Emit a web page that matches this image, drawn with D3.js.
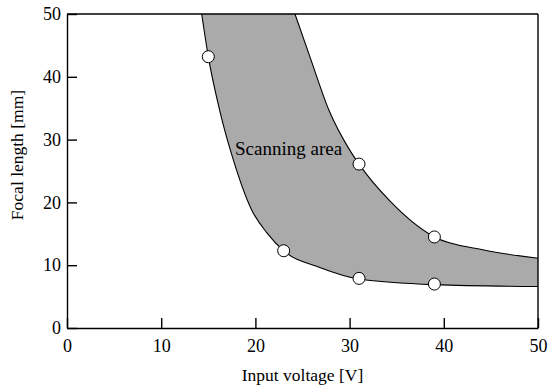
<!DOCTYPE html>
<html>
<head>
<meta charset="utf-8">
<script src="https://cdn.jsdelivr.net/npm/d3@7"></script>
<style>
  body { margin: 0; background: #fff; }
  svg text { font-family: "Liberation Serif", "Times New Roman", serif; fill: #000; }
</style>
</head>
<body>
<div id="chart"></div>
<script>
// ---- data ----
var xTicks = [0, 10, 20, 30, 40, 50];
var yTicks = [0, 10, 20, 30, 40, 50];

// upper boundary of the scanning area
var upperX = [24.2, 25.9, 27.8, 29.9, 31, 34.3, 39, 44, 50];
var upperY = [50, 42.7, 34.7, 28.6, 26.1, 20.2, 14.5, 12.5, 11.1];

// lower boundary of the scanning area
var lowerX = [14.3, 15, 16.2, 17.65, 19.6, 21.2, 23, 26.9, 31, 39, 50];
var lowerY = [50, 43.2, 34.7, 26.8, 18.8, 15.2, 12.3, 9.6, 7.8, 6.9, 6.6];

// measured points (open circles)
var pointX = [15, 23, 31, 31, 39, 39];
var pointY = [43.2, 12.3, 26.1, 7.9, 14.5, 7.0];

var width = 553, height = 387;
var serif = '"Liberation Serif", "Times New Roman", serif';
var svg = d3.select("#chart").append("svg")
    .attr("width", width)
    .attr("height", height);

var x = d3.scaleLinear().domain([0, 50]).range([67, 538]);
var y = d3.scaleLinear().domain([0, 50]).range([328, 14]);

var upper = upperX.map(function(d, i) { return [d, upperY[i]]; });
var lower = lowerX.map(function(d, i) { return [d, lowerY[i]]; });

var line = d3.line()
    .x(function(d) { return x(d[0]); })
    .y(function(d) { return y(d[1]); })
    .curve(d3.curveMonotoneX);

// filled band: upper curve left->right, then lower curve back right->left
var band = line(upper) + "L" + line(lower.slice().reverse()).slice(1) + "Z";
svg.append("path")
    .attr("d", band)
    .attr("fill", "#aaaaaa")
    .attr("stroke", "none");

svg.append("path").attr("d", line(upper))
    .attr("fill", "none").attr("stroke", "#000").attr("stroke-width", 1.1);
svg.append("path").attr("d", line(lower))
    .attr("fill", "none").attr("stroke", "#000").attr("stroke-width", 1.1);

// axes, ticks pointing inward
var xAxis = svg.append("g")
    .attr("transform", "translate(0," + y(0) + ")")
    .call(d3.axisBottom(x).tickValues(xTicks).tickSizeInner(-10).tickSizeOuter(0).tickPadding(11));
var yAxis = svg.append("g")
    .attr("transform", "translate(" + x(0) + ",0)")
    .call(d3.axisLeft(y).tickValues(yTicks).tickSizeInner(-10).tickSizeOuter(0).tickPadding(6));

[xAxis, yAxis].forEach(function(a) {
  a.attr("font-family", serif);
  a.select(".domain").attr("stroke", "#000").attr("stroke-width", 1.4);
  a.selectAll(".tick line").attr("stroke", "#000").attr("stroke-width", 1.4);
  a.selectAll(".tick text")
    .style("font-family", serif)
    .style("font-size", "18px")
    .attr("fill", "#000");
});

// frame top and right
svg.append("line")
    .attr("x1", x(0)).attr("x2", x(50)).attr("y1", y(50)).attr("y2", y(50))
    .attr("stroke", "#000").attr("stroke-width", 1.4);
svg.append("line")
    .attr("x1", x(50)).attr("x2", x(50)).attr("y1", y(50)).attr("y2", y(0))
    .attr("stroke", "#000").attr("stroke-width", 1.4);

svg.selectAll("circle.pt")
    .data(pointX)
    .enter()
    .append("circle")
    .attr("class", "pt")
    .attr("cx", function(d) { return x(d); })
    .attr("cy", function(d, i) { return y(pointY[i]); })
    .attr("r", 6)
    .attr("fill", "#fff")
    .attr("stroke", "#000")
    .attr("stroke-width", 1);

svg.append("text")
    .attr("x", 235).attr("y", 155)
    .style("font-family", serif)
    .style("font-size", "19px")
    .text("Scanning area");

svg.append("text")
    .attr("x", (x(0) + x(50)) / 2).attr("y", 381)
    .attr("text-anchor", "middle")
    .style("font-family", serif)
    .style("font-size", "17.5px")
    .text("Input voltage [V]");

svg.append("text")
    .attr("transform", "translate(23,155) rotate(-90)")
    .attr("text-anchor", "middle")
    .style("font-family", serif)
    .style("font-size", "17.5px")
    .text("Focal length [mm]");
</script>
</body>
</html>
